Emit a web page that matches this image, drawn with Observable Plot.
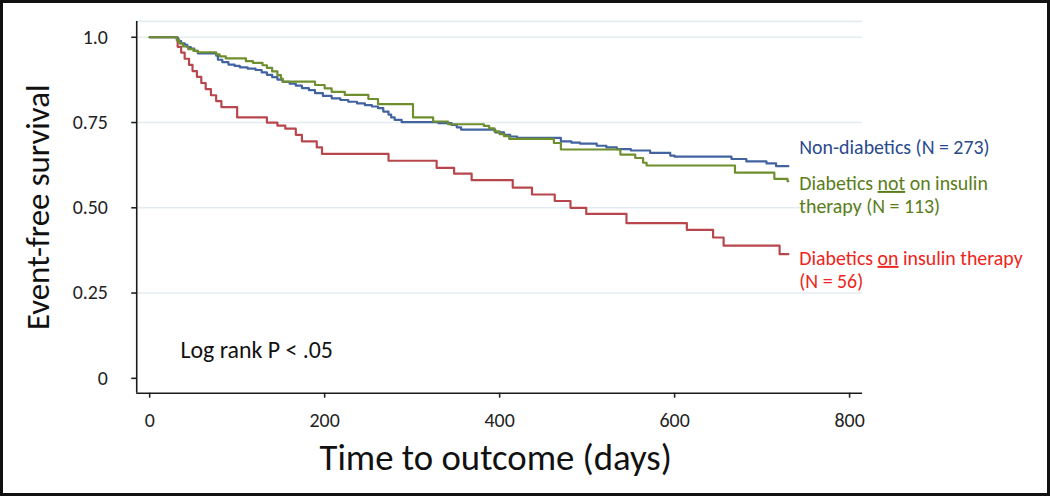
<!DOCTYPE html>
<html>
<head>
<meta charset="utf-8">
<script src="https://cdn.jsdelivr.net/npm/d3@7"></script>
<script src="https://cdn.jsdelivr.net/npm/@observablehq/plot@0.6"></script>
<style>
  html, body { margin: 0; padding: 0; background: #fff; }
  #frame { width: 1050px; height: 496px; box-sizing: border-box; border: 3px solid #111; position: relative; overflow: hidden; background: #fff; }
  #frame svg { position: absolute; left: -3px; top: -3px; }
</style>
</head>
<body>
<div id="frame"></div>
<script>
// ---- data ----
const xTicks = [0, 200, 400, 600, 800];
const yTicks = [0, 0.25, 0.5, 0.75, 1];
const yTickLabels = ["0", "0.25", "0.50", "0.75", "1.0"];

const nonDiabetics = [[0,1],[31,0.996],[33,0.989],[36,0.982],[40,0.978],[43,0.971],[47,0.967],[51,0.960],[55,0.953],[76,0.946],[78,0.934],[83,0.927],[90,0.920],[97,0.916],[103,0.912],[112,0.908],[121,0.904],[128,0.897],[134,0.890],[140,0.883],[146,0.876],[152,0.869],[160,0.864],[167,0.858],[174,0.851],[182,0.845],[189,0.836],[198,0.828],[208,0.821],[218,0.816],[227,0.811],[237,0.806],[246,0.801],[254,0.797],[261,0.792],[267,0.782],[273,0.773],[276,0.765],[280,0.758],[288,0.751],[330,0.748],[345,0.743],[351,0.736],[356,0.729],[395,0.721],[405,0.714],[412,0.709],[420,0.705],[470,0.695],[482,0.691],[492,0.688],[511,0.682],[522,0.677],[534,0.672],[550,0.668],[572,0.661],[595,0.653],[600,0.650],[665,0.643],[682,0.636],[705,0.630],[716,0.622],[730,0.622]];

const diabNoInsulin = [[0,1],[31,0.991],[34,0.982],[38,0.973],[44,0.965],[50,0.960],[55,0.956],[76,0.950],[80,0.944],[87,0.938],[110,0.930],[118,0.925],[129,0.918],[134,0.910],[140,0.900],[146,0.889],[150,0.879],[152,0.870],[189,0.860],[200,0.850],[208,0.840],[223,0.831],[250,0.819],[261,0.804],[301,0.765],[324,0.753],[341,0.745],[382,0.740],[388,0.733],[394,0.724],[400,0.716],[405,0.710],[411,0.702],[462,0.690],[470,0.671],[538,0.656],[555,0.646],[564,0.632],[568,0.624],[669,0.603],[714,0.585],[729,0.578],[730,0.578]];

const diabInsulin = [[0,1],[32,0.972],[36,0.955],[40,0.937],[45,0.919],[49,0.901],[54,0.884],[59,0.866],[64,0.848],[70,0.830],[76,0.813],[82,0.795],[100,0.765],[134,0.750],[146,0.741],[155,0.732],[167,0.714],[174,0.695],[191,0.677],[197,0.658],[273,0.638],[328,0.617],[348,0.600],[368,0.581],[415,0.559],[437,0.539],[463,0.520],[481,0.500],[499,0.482],[545,0.455],[614,0.435],[644,0.413],[656,0.389],[720,0.364],[730,0.364]];

const seriesKeys = ["insulin", "nonDiabetic", "noInsulin"];
const seriesPoints = [diabInsulin, nonDiabetics, diabNoInsulin];
const seriesLabels = ["Diabetics _on_ insulin therapy\n(N = 56)", "Non-diabetics (N = 273)", "Diabetics _not_ on insulin\ntherapy (N = 113)"];
const lineColors = ["#b8474d", "#42639f", "#6f8f2e"];
const labelColors = ["#ee2420", "#2a4a8c", "#5a7d1a"];
const labelDy = [15, -20, 13];

const xAxisTitle = "Time to outcome (days)";
const yAxisTitle = "Event-free survival";
const note = "Log rank P < .05";

// ---- build ----
const xDomain = [-14.8, 814.8];
const yDomain = [-0.0437, 1.0466];

const rows = seriesKeys.flatMap((k, i) => seriesPoints[i].map(([t, v]) => ({t, v, k})));
const colorMap = new Map(seriesKeys.map((k, i) => [k, lineColors[i]]));
const yLabelMap = new Map(yTicks.map((d, i) => [d, yTickLabels[i]]));

const labelMarks = seriesKeys.map((k, i) => {
  const p = seriesPoints[i][seriesPoints[i].length - 1];
  return Plot.text([{t: p[0], v: p[1], label: seriesLabels[i]}], {
    x: "t", y: "v", text: "label", fill: labelColors[i], dx: 11, dy: labelDy[i],
    fontSize: 20, lineHeight: 1.18, textAnchor: "start", lineAnchor: "middle"
  });
});

const font = "Carlito, Lato, sans-serif";

const chart = Plot.plot({
  width: 1050,
  height: 496,
  marginLeft: 137,
  marginRight: 183,
  marginTop: 21,
  marginBottom: 101,
  x: {domain: xDomain},
  y: {domain: yDomain},
  style: {fontFamily: font, background: "transparent", overflow: "visible"},
  marks: [
    Plot.ruleY(yTicks.filter(d => d > 0), {stroke: "#e3edf1", strokeWidth: 1.6}),
    Plot.ruleY([yDomain[1]], {stroke: "#e3edf1", strokeWidth: 1.6}),
    Plot.line(rows, {x: "t", y: "v", z: "k", stroke: d => colorMap.get(d.k), curve: "step-after", strokeWidth: 2.2}),
    Plot.ruleX([xDomain[0]], {stroke: "#1a1a1a", strokeWidth: 1.6}),
    Plot.ruleY([yDomain[0]], {stroke: "#1a1a1a", strokeWidth: 1.6}),
    Plot.axisY(yTicks, {anchor: "left", tickSize: 5, tickPadding: 24, tickFormat: d => yLabelMap.get(d), fontSize: 20, label: null, color: "#222", strokeWidth: 1.6}),
    Plot.axisX(xTicks, {anchor: "bottom", tickSize: 5, tickPadding: 15, tickFormat: d => String(d), fontSize: 20, label: null, color: "#222", strokeWidth: 1.6}),
    Plot.text([yAxisTitle], {frameAnchor: "left", dx: -99, rotate: -90, text: d => d, fontSize: 33, textAnchor: "middle", lineAnchor: "middle", fill: "#111"}),
    Plot.text([xAxisTitle], {frameAnchor: "bottom", dx: -4, dy: 65, text: d => d, fontSize: 37, textAnchor: "middle", lineAnchor: "middle", fill: "#111"}),
    Plot.text([note], {frameAnchor: "bottom-left", dx: 44, dy: -43, text: d => d, fontSize: 24, textAnchor: "start", lineAnchor: "middle", fill: "#111"}),
    ...labelMarks
  ]
});

document.getElementById("frame").appendChild(chart);

// underline words marked with _word_
chart.querySelectorAll("text").forEach(t => {
  const targets = t.querySelectorAll("tspan").length ? t.querySelectorAll("tspan") : [t];
  targets.forEach(node => {
    const s = node.textContent;
    if (!s.includes("_")) return;
    node.textContent = "";
    s.split(/(_[^_]+_)/).forEach(part => {
      if (!part) return;
      if (/^_[^_]+_$/.test(part)) {
        const u = document.createElementNS("http://www.w3.org/2000/svg", "tspan");
        u.textContent = part.slice(1, -1);
        u.style.textDecoration = "underline";
        node.appendChild(u);
      } else {
        node.appendChild(document.createTextNode(part));
      }
    });
  });
});
</script>
</body>
</html>
